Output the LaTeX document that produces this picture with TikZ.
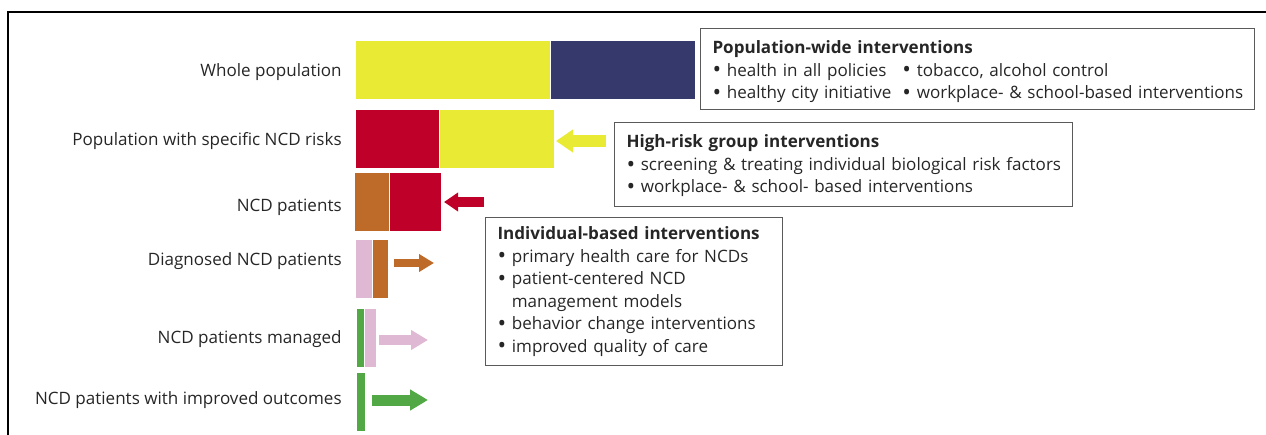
\documentclass[tikz,border=0pt]{standalone}
\usepackage{fontspec}
\setmainfont{Open Sans}
\usepackage{xcolor}
\definecolor{yyellow}{HTML}{E8EA34}
\definecolor{nnavy}{HTML}{36396B}
\definecolor{rred}{HTML}{BF0028}
\definecolor{bbrown}{HTML}{BE6A29}
\definecolor{ppink}{HTML}{DFB9D3}
\definecolor{ggreen}{HTML}{52A844}
\definecolor{ggray}{HTML}{5A5A5A}
\usetikzlibrary{arrows.meta}
\usetikzlibrary{positioning}
\newcommand{\bul}{\raisebox{-0.1em}{\scalebox{1.35}{\textbullet}}}

\begin{document}
\begin{tikzpicture}[x=0.02cm,y=-0.02cm,
		every node/.style={font=\fontsize{9.7}{12.8}\selectfont, text=black!85},
		bar/.style={inner sep=0pt, anchor=north west, minimum height=1.16cm},
		lbl/.style={anchor=east, inner sep=0pt},
		ibox/.style={draw=ggray, line width=0.6pt, anchor=north west, inner xsep=0.24cm, inner ysep=0pt, align=left}]
				\useasboundingbox (0,0) rectangle (1266,435);
				\draw[line width=1pt] (8,435) -- (8,12) -- (1266,12);
				% bars
				\node[bar, fill=yyellow, minimum width=3.88cm] (n0) at (356,41) {};
				\node[bar, fill=nnavy, minimum width=2.88cm] (n1) at (n0.north east) {};
				\node[bar, fill=rred, minimum width=1.66cm] (n2) at (356,110) {};
				\node[bar, fill=yyellow, minimum width=2.28cm] (n3) at (n2.north east) {};
				\node[bar, fill=bbrown, minimum width=0.68cm] (n4) at (355,173) {};
				\node[bar, fill=rred, minimum width=1.02cm] (n5) at (n4.north east) {};
				\node[bar, fill=ppink, minimum width=0.32cm] (n6) at (356,240) {};
				\node[bar, fill=bbrown, minimum width=0.30cm] (n7) at (n6.north east) {};
				\node[bar, fill=ggreen, minimum width=0.14cm] (n8) at (357,309) {};
				\node[bar, fill=ppink, minimum width=0.22cm] (n9) at (n8.north east) {};
				\node[bar, fill=ggreen, minimum width=0.16cm] (n10) at (357,373) {};
				% labels
				\node[lbl] (l0) at (342,72) {Whole population};
				\node[lbl] (l1) at (342,141) {Population with specific NCD risks};
				\node[lbl] (l2) at (342,207) {NCD patients};
				\node[lbl] (l3) at (342,261) {Diagnosed NCD patients};
				\node[lbl] (l4) at (342,339) {NCD patients managed};
				\node[lbl] (l5) at (342,400) {NCD patients with improved outcomes};
				% boxes
				\node[ibox, minimum width=11.08cm, minimum height=1.62cm, text width=10.6cm] (b0) at (700,28) {%
					\rule{0pt}{12pt}\textbf{Population-wide interventions}\\
					\begin{tabular}[t]{@{}l@{\hspace{0.22cm}}l@{}}
						\bul\ health in all policies & \bul\ tobacco, alcohol control\\
						\bul\ healthy city initiative & \bul\ workplace- \& school-based interventions
					\end{tabular}};
				\node[ibox, minimum width=9.16cm, minimum height=1.68cm, text width=8.68cm] (b1) at (614,122) {%
					\rule{0pt}{9pt}\textbf{High-risk group interventions}\\
					\bul\ \mbox{screening \& treating individual biological risk factors}\\
					\bul\ workplace- \& school- based interventions};
				\node[ibox, minimum width=5.94cm, minimum height=2.96cm, text width=5.46cm] (b2) at (485,217) {%
					\textbf{Individual-based interventions}\\
					\bul\ primary health care for NCDs\\
					\bul\ patient-centered NCD\\
					\phantom{\bul\ }management models\\
					\bul\ behavior change interventions\\
					\bul\ improved quality of care};
				% arrows
				\coordinate (a0) at (606,141);
				\coordinate (a1) at (556,141);
				\coordinate (a2) at (484,202);
				\coordinate (a3) at (444,202);
				\coordinate (a4) at (394,263);
				\coordinate (a5) at (434,263);
				\coordinate (a6) at (379,340);
				\coordinate (a7) at (428,340);
				\coordinate (a8) at (372,400);
				\coordinate (a9) at (428,400);
				\draw[yyellow, line width=0.24cm, -{Triangle[length=0.34cm,width=0.44cm]}] (a0) -- (a1);
				\draw[rred, line width=0.20cm, -{Triangle[length=0.28cm,width=0.36cm]}] (a2) -- (a3);
				\draw[bbrown, line width=0.16cm, -{Triangle[length=0.30cm,width=0.34cm]}] (a4) -- (a5);
				\draw[ppink, line width=0.20cm, -{Triangle[length=0.34cm,width=0.38cm]}] (a6) -- (a7);
				\draw[ggreen, line width=0.22cm, -{Triangle[length=0.36cm,width=0.40cm]}] (a8) -- (a9);
			\end{tikzpicture}
\end{document}
